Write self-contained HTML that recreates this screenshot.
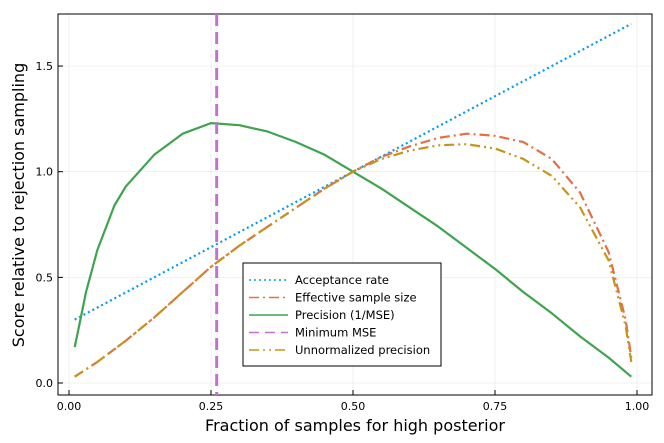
<!DOCTYPE html>
<html><head><meta charset="utf-8"><style>
body{margin:0;background:#fff}svg{display:block;font-family:"DejaVu Sans","Liberation Sans",sans-serif}
</style></head><body>
<svg id="c" width="664" height="443" viewBox="0 0 664 443"></svg>
<script>
const accX=[0.01,0.99];
const accY=[0.30,1.70];
const precX=[0.01,0.02,0.03,0.05,0.08,0.1,0.15,0.2,0.25,0.3,0.35,0.4,0.45,0.5,0.55,0.6,0.65,0.7,0.75,0.8,0.85,0.9,0.95,0.99];
const precY=[0.17,0.30,0.43,0.63,0.84,0.93,1.08,1.18,1.23,1.22,1.19,1.14,1.08,1.0,0.92,0.83,0.74,0.64,0.54,0.43,0.33,0.22,0.12,0.03];
const essX=[0.01,0.05,0.1,0.15,0.2,0.25,0.3,0.35,0.4,0.45,0.5,0.55,0.6,0.65,0.7,0.75,0.8,0.85,0.9,0.95,0.98,0.99];
const essY=[0.03,0.10,0.20,0.31,0.43,0.55,0.65,0.74,0.83,0.92,1.0,1.07,1.12,1.16,1.18,1.17,1.14,1.06,0.90,0.62,0.30,0.12];
const unX=[0.01,0.05,0.1,0.15,0.2,0.25,0.3,0.35,0.4,0.45,0.5,0.55,0.6,0.65,0.7,0.75,0.8,0.85,0.9,0.95,0.98,0.99];
const unY=[0.03,0.10,0.20,0.31,0.43,0.55,0.65,0.74,0.83,0.92,1.0,1.06,1.10,1.125,1.13,1.11,1.06,0.98,0.83,0.58,0.27,0.10];
const minMSE=0.26;
const xTicks=[0,0.25,0.5,0.75,1.0];
const xTickLabels=["0.00","0.25","0.50","0.75","1.00"];
const yTicks=[0,0.5,1.0,1.5];
const yTickLabels=["0.0","0.5","1.0","1.5"];
const L=58,R=652,T=14,B=395;
const sx=v=>69+v*568, sy=v=>383-v*211.3;
const svg=document.getElementById('c');const NS='http://www.w3.org/2000/svg';
function mk(t,a,p){const e=document.createElementNS(NS,t);for(const k in a)e.setAttribute(k,a[k]);(p||svg).appendChild(e);return e;}
xTicks.forEach((v,i)=>{const g=mk('line',{x1:sx(v),x2:sx(v),y1:T,y2:B,stroke:'#000','stroke-opacity':0.1,'stroke-width':0.5});


mk('line',{x1:sx(v),x2:sx(v),y1:B,y2:B-5,stroke:'#000'});
const t=mk('text',{x:sx(v),y:B+15,'text-anchor':'middle','font-size':11});t.textContent=xTickLabels[i];

});
yTicks.forEach((v,i)=>{const g=mk('line',{x1:L,x2:R,y1:sy(v),y2:sy(v),stroke:'#000','stroke-opacity':0.1,'stroke-width':0.5});


mk('line',{x1:L,x2:L+5,y1:sy(v),y2:sy(v),stroke:'#000'});
const t=mk('text',{x:L-5,y:sy(v)+4,'text-anchor':'end','font-size':11});t.textContent=yTickLabels[i];

});
const fr=mk('rect',{x:L,y:T,width:R-L,height:B-T,fill:'none',stroke:'#000','stroke-width':1});


function line(xs,ys,col,dash,name){const d=xs.map((x,i)=>(i?'L':'M')+sx(x).toFixed(1)+','+sy(ys[i]).toFixed(1)).join('');
const p=mk('path',{d:d,fill:'none',stroke:col,'stroke-width':2.2,'stroke-dasharray':dash,'stroke-linejoin':'round'});

}
line(accX,accY,'#009AFA','2 3','acceptance-rate-line');
line(essX,essY,'#E36F47','10 4 2 4','effective-sample-size-line');
line(precX,precY,'#3EA44E','','precision-line');
line(unX,unY,'#C3961B','10 4 2 4 2 4','unnormalized-precision-line');
const mv=mk('line',{x1:sx(minMSE),x2:sx(minMSE),y1:T,y2:B,stroke:'#C271D2','stroke-width':3,'stroke-dasharray':'12 6'});


const lg=mk('g',{});
mk('rect',{x:243,y:263,width:198,height:103,fill:'#fff',stroke:'#000','stroke-width':1},lg);
const ents=[['Acceptance rate','#009AFA','2 3'],['Effective sample size','#E36F47','10 4 2 4'],['Precision (1/MSE)','#3EA44E',''],['Minimum MSE','#C271D2','10 6'],['Unnormalized precision','#C3961B','10 4 2 4 2 4']];
ents.forEach((e,i)=>{const y=280+i*17.5;const g=mk('g',{},lg);


mk('line',{x1:249,x2:288,y1:y,y2:y,stroke:e[1],'stroke-width':1.5,'stroke-dasharray':e[2]},g);
const t=mk('text',{x:295,y:y+4,'font-size':11.5},g);t.textContent=e[0];});
const xt=mk('text',{x:355,y:431,'text-anchor':'middle','font-size':16});xt.textContent='Fraction of samples for high posterior';

const yt=mk('text',{x:0,y:0,'text-anchor':'middle','font-size':16,transform:'translate(24,205) rotate(-90)'});yt.textContent='Score relative to rejection sampling';

</script>
</body></html>
